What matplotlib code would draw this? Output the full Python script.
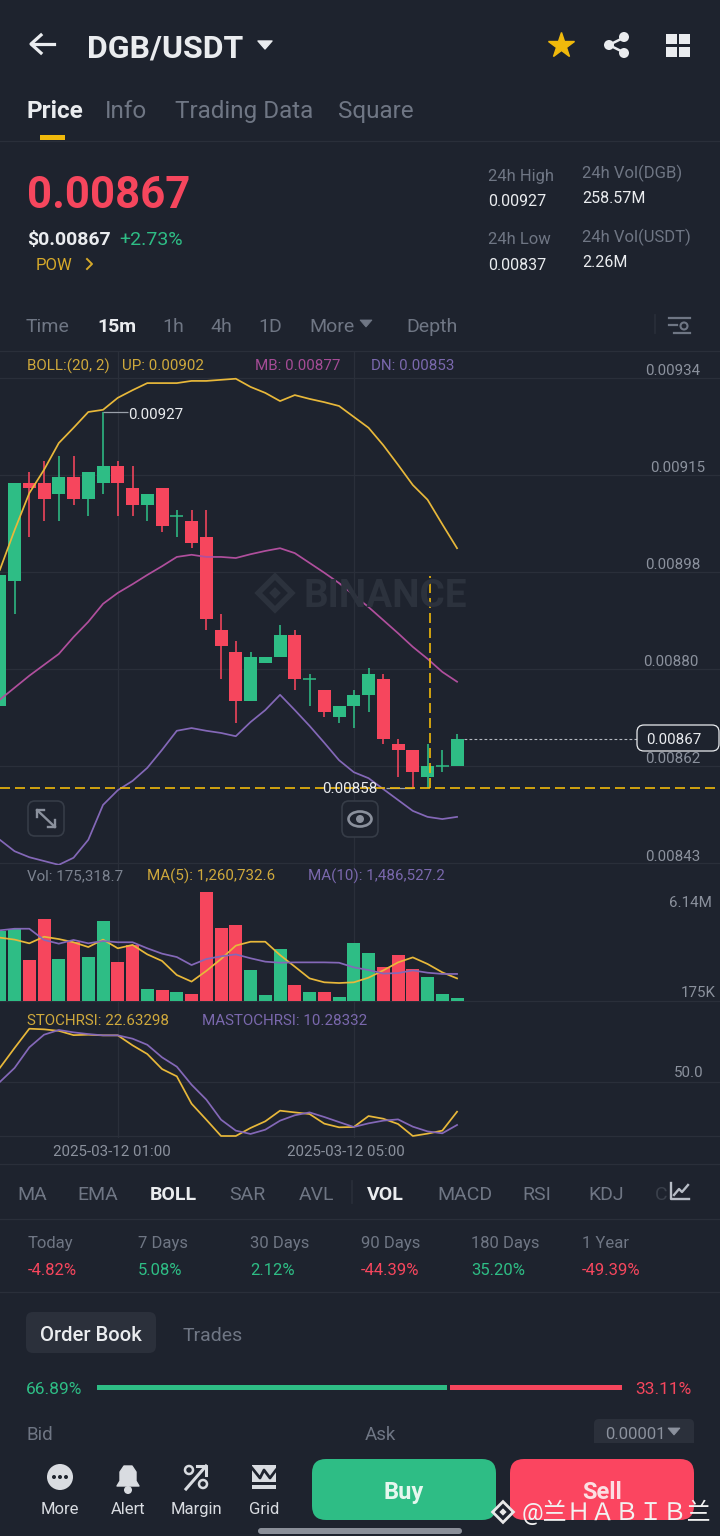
"""Recreate the DGB/USDT trading screen."""
import matplotlib
matplotlib.use('Agg')
import matplotlib.pyplot as plt
from matplotlib.patches import FancyBboxPatch, Circle, Rectangle, Polygon, Ellipse

plt.rcParams['font.family'] = ['Roboto', 'Noto Sans CJK SC', 'DejaVu Sans']

BG = '#1e232e'
GRID = '#2a2f3a'
GREEN = '#2ebd85'
RED = '#f6465d'
GOLD = '#e8b83a'
MAGENTA = '#b04f9d'
PURPLE = '#8468b8'
GRAY = '#6f7684'
WHITE = '#eaecef'

# candles
opens = [0.00873, 0.00896, 0.00914, 0.00914, 0.00912, 0.00915, 0.00911, 0.00914, 0.00917, 0.00913, 0.00910,
         0.00913, 0.00908, 0.00907, 0.00904, 0.00887, 0.00883, 0.00874, 0.00881, 0.00882, 0.00886, 0.00878,
         0.00876, 0.00871, 0.00873, 0.00875, 0.00878, 0.00866, 0.00865, 0.00860, 0.00862, 0.00862]
closes = [0.00897, 0.00914, 0.00913, 0.00911, 0.00915, 0.00911, 0.00916, 0.00917, 0.00914, 0.00910, 0.00912,
          0.00906, 0.00908, 0.00903, 0.00889, 0.00884, 0.00874, 0.00882, 0.00882, 0.00886, 0.00878, 0.00878,
          0.00872, 0.00873, 0.00875, 0.00879, 0.00867, 0.00865, 0.00861, 0.00862, 0.00862, 0.00867]
highs = [0.00897, 0.00914, 0.00916, 0.00918, 0.00919, 0.00919, 0.00916, 0.00927, 0.00918, 0.00917, 0.00912,
         0.00913, 0.00909, 0.00909, 0.00909, 0.00890, 0.00885, 0.00883, 0.00882, 0.00888, 0.00887, 0.00879,
         0.00876, 0.00873, 0.00876, 0.00880, 0.00879, 0.00867, 0.00865, 0.00866, 0.00865, 0.00868]
lows = [0.00873, 0.00890, 0.00904, 0.00907, 0.00907, 0.00910, 0.00908, 0.00912, 0.00908, 0.00908, 0.00907,
        0.00905, 0.00904, 0.00902, 0.00887, 0.00878, 0.00870, 0.00874, 0.00881, 0.00882, 0.00876, 0.00873,
        0.00871, 0.00870, 0.00869, 0.00872, 0.00866, 0.00860, 0.00858, 0.00858, 0.00861, 0.00862]

# bollinger bands
boll_up = [0.008980, 0.009053, 0.009121, 0.009164, 0.009213, 0.009241, 0.009270, 0.009274, 0.009296, 0.009310,
           0.009323, 0.009323, 0.009323, 0.009327, 0.009327, 0.009329, 0.009331, 0.009316, 0.009305, 0.009290,
           0.009301, 0.009294, 0.009288, 0.009281, 0.009261, 0.009241, 0.009209, 0.009173, 0.009136, 0.009109,
           0.009064, 0.009020]
boll_mb = [0.008742, 0.008764, 0.008786, 0.008806, 0.008826, 0.008857, 0.008885, 0.008918, 0.008938, 0.008954,
           0.008971, 0.008987, 0.009004, 0.009008, 0.009004, 0.009004, 0.009002, 0.009009, 0.009015, 0.009020,
           0.009011, 0.008993, 0.008975, 0.008956, 0.008934, 0.008912, 0.008888, 0.008864, 0.008839, 0.008817,
           0.008793, 0.008775]
boll_dn = [0.008485, 0.008464, 0.008453, 0.008446, 0.008439, 0.008452, 0.008485, 0.008549, 0.008576, 0.008593,
           0.008617, 0.008650, 0.008685, 0.008690, 0.008685, 0.008681, 0.008675, 0.008701, 0.008723, 0.008751,
           0.008723, 0.008694, 0.008663, 0.008631, 0.008609, 0.008598, 0.008578, 0.008558, 0.008538, 0.008527,
           0.008523, 0.008527]

# volume, in millions
volumes = [3.93, 4.04, 2.30, 4.61, 2.34, 3.33, 2.49, 4.49, 2.21, 3.15, 0.67, 0.62, 0.51, 0.41, 6.14, 4.08,
           4.27, 1.72, 0.32, 2.94, 0.90, 0.49, 0.49, 0.22, 3.28, 2.70, 1.91, 2.57, 1.80, 1.37, 0.39, 0.175]
vol_ma5 = [3.56, 3.45, 3.24, 3.61, 3.48, 3.30, 3.03, 3.45, 2.96, 3.15, 2.62, 2.25, 1.46, 1.09, 1.69, 2.36,
           3.11, 3.33, 3.33, 2.58, 1.93, 1.27, 1.05, 1.01, 1.05, 1.31, 1.72, 2.17, 2.45, 2.08, 1.61, 1.27]
vol_ma10 = [3.97, 4.06, 4.06, 3.43, 3.22, 3.43, 3.24, 3.37, 3.30, 3.30, 2.96, 2.66, 2.47, 2.02, 2.36, 2.51,
            2.62, 2.40, 2.21, 2.15, 2.17, 2.17, 2.17, 2.15, 1.89, 1.74, 1.54, 1.57, 1.72, 1.59, 1.52, 1.52]

# stoch rsi
stoch = [63.4, 82.0, 100.0, 99.4, 98.0, 94.0, 94.4, 93.8, 93.8, 84.5, 76.4, 62.4, 55.6, 30.1, 15.2, 0.0,
         0.0, 7.5, 13.7, 23.6, 22.0, 20.5, 11.5, 8.1, 8.4, 18.6, 16.1, 11.2, 0.0, 2.2, 5.0, 22.63]
ma_stoch = [50.3, 63.4, 82.6, 94.4, 98.8, 96.6, 95.0, 93.8, 93.8, 90.7, 85.0, 73.3, 64.6, 47.8, 33.9, 15.2,
            5.0, 1.9, 5.9, 14.3, 19.3, 22.0, 17.7, 13.0, 8.4, 11.8, 14.3, 15.5, 8.7, 4.3, 2.5, 10.28]

price_ticks = [0.009332, 0.009154, 0.008976, 0.008798, 0.00862, 0.008442]
price_labels = ['0.00934', '0.00915', '0.00898', '0.00880', '0.00862', '0.00843']
date_idx = [8, 24]
date_labels = ['2025-03-12 01:00', '2025-03-12 05:00']
period_names = ['Today', '7 Days', '30 Days', '90 Days', '180 Days', '1 Year']
period_values = ['-4.82%', '5.08%', '2.12%', '-44.39%', '35.20%', '-49.39%']

W, H = 720, 1536
STEP = 14.75
fig = plt.figure(figsize=(W / 100, H / 100), dpi=100, facecolor=BG)


def panel(top, bottom):
    ax = fig.add_axes([0, 1 - bottom / H, 1, (bottom - top) / H])
    ax.patch.set_alpha(0)
    for s in ax.spines.values():
        s.set_visible(False)
    ax.set_xlim(0.2 / STEP, (W + 0.2) / STEP)
    ax.set_xticks(date_idx)
    ax.tick_params(length=0, labelbottom=False, labelleft=False)
    ax.grid(True, color=GRID, lw=0.9)
    ax.set_axisbelow(True)
    return ax


def price_at(y):
    return 0.00858 + (788 - y) * 1.835e-6


idx = list(range(len(opens)))
cols = [GREEN if c >= o else RED for o, c in zip(opens, closes)]

# price panel
ax = panel(351, 865)
ax.set_ylim(price_at(865), price_at(351))
ax.set_yticks(price_ticks)
ax.vlines(idx, lows, highs, colors=cols, lw=1.15, zorder=2)
ax.bar(idx, [abs(c - o) for o, c in zip(opens, closes)], bottom=[min(o, c) for o, c in zip(opens, closes)],
       width=0.88, color=cols, zorder=3)
for i, (o, c) in enumerate(zip(opens, closes)):
    if o == c:
        ax.hlines(o, i - 0.44, i + 0.44, color=cols[i], lw=1.1, zorder=3)
ax.plot(idx, boll_up, color=GOLD, lw=1.25, zorder=4)
ax.plot(idx, boll_mb, color=MAGENTA, lw=1.25, zorder=4)
ax.plot(idx, boll_dn, color=PURPLE, lw=1.25, zorder=4)
ax.axhline(0.00858, color='#f0b90b', lw=1.2, dashes=(6, 3), zorder=5)
ax.vlines(29.15, 0.00858, 0.008969, color='#f0b90b', lw=1.2, linestyles=(0, (6, 3)), zorder=5)
ax.hlines(0.00927, 7, 8.7, color='#9aa0aa', lw=0.9, zorder=2)
ax.hlines(0.00858, 26.2, 28, color='#9aa0aa', lw=0.9, zorder=4)
ax.hlines(closes[-1], 31.5, 43.2, color='#b5b9c0', lw=0.8, linestyles=(0, (2.5, 2)), zorder=2)

# volume panel
ax2 = panel(865, 1004)
ax2.set_ylim(-3 / 17.8, 136 / 17.8)
ax2.set_yticks([0])
ax2.bar(idx, volumes, width=0.88, color=cols, zorder=3)
ax2.plot(idx, vol_ma5, color=GOLD, lw=1.25, zorder=4)
ax2.plot(idx, vol_ma10, color=PURPLE, lw=1.25, zorder=4)

# stoch panel
ax3 = panel(1004, 1138)
ax3.set_ylim(-2 / 1.073, 132 / 1.073)
ax3.set_yticks([0, 50])
ax3.plot(idx, stoch, color=GOLD, lw=1.25, zorder=4)
ax3.plot(idx, ma_stoch, color=PURPLE, lw=1.25, zorder=4)

# everything else sits on a pixel overlay
ui = fig.add_axes([0, 0, 1, 1], zorder=10)
ui.set_xlim(0, W)
ui.set_ylim(H, 0)
ui.axis('off')
ui.patch.set_alpha(0)


def t(x, y, s, size=11, color=GRAY, weight='normal', ha='left', **kw):
    # y is the middle of the capitals, text is placed on its baseline
    return ui.text(x, y + 0.49 * size, s, fontsize=size, color=color, fontweight=weight, ha=ha, va='baseline', **kw)


def rbox(x0, y0, x1, y1, r, fc='none', ec='none', lw=1.0, z=1):
    ui.add_patch(FancyBboxPatch((x0 + r, y0 + r), x1 - x0 - 2 * r, y1 - y0 - 2 * r,
                                boxstyle='round,pad=%f,rounding_size=%f' % (r, r), fc=fc, ec=ec, lw=lw, zorder=z))


def hline(y, x0=0, x1=W, color=GRID, lw=0.9):
    ui.plot([x0, x1], [y, y], color=color, lw=lw, zorder=1)


def logo(cx, cy, r, color, lw, z=1):
    ui.add_patch(Polygon([(cx - r * 0.8, cy), (cx, cy - r * 0.8), (cx + r * 0.8, cy), (cx, cy + r * 0.8)],
                         fc='none', ec=color, lw=lw, zorder=z))
    d = r * 0.28
    ui.add_patch(Polygon([(cx - d, cy), (cx, cy - d), (cx + d, cy), (cx, cy + d)], fc=color, ec='none', zorder=z))


# watermark
logo(275, 593, 21, '#2c323d', 4, z=0)
t(303, 593, 'BINANCE', 27.8, '#2c323d', 'bold')

# header
ui.plot([32, 54], [44, 44], color=WHITE, lw=2.3)
ui.plot([41, 31, 41], [35, 44, 53], color=WHITE, lw=2.3)
t(87, 46, 'DGB/USDT', 23, WHITE, 'bold')
ui.add_patch(Polygon([(258, 41), (272, 41), (265, 49)], fc=WHITE, ec=WHITE, lw=1, joinstyle='round'))
ui.plot(561, 45, marker='*', ms=19, color='#f0b90b', mec='#f0b90b')
for a, b in [((609, 45), (625, 37)), ((609, 45), (625, 53))]:
    ui.plot(*zip(a, b), color=WHITE, lw=1.8)
for c in [(609, 45), (624, 37), (624, 53)]:
    ui.add_patch(Circle(c, 5, fc=WHITE, ec='none'))
for x0, y0 in [(666, 34), (679, 34), (666, 47), (679, 47)]:
    ui.add_patch(Rectangle((x0, y0), 10.5, 10, fc=WHITE, ec='none'))

# tabs
t(27, 109, 'Price', 17.5, WHITE, 'bold')
t(105, 109, 'Info', 17.5)
t(175, 109, 'Trading Data', 17.5)
t(338, 109, 'Square', 17.5)
ui.add_patch(Rectangle((40, 135), 25, 5, fc='#f0b90b', ec='none'))
hline(140.5)

# ticker
t(27, 193, '0.00867', 31.5, RED, 'bold')
t(27, 238, '$0.00867', 14, WHITE, 'bold')
t(119, 238, '+2.73%', 14, GREEN, 'normal')
t(36, 264, 'POW', 12, '#d6a92a')
ui.plot([87, 92, 87], [259, 264, 269], color='#d6a92a', lw=1.4)
t(488, 175, '24h High', 12)
t(488, 200, '0.00927', 11.5, WHITE)
t(582, 172, '24h Vol(DGB)', 12)
t(582, 197, '258.57M', 11.5, WHITE)
t(488, 238, '24h Low', 12)
t(488, 264, '0.00837', 11.5, WHITE)
t(582, 236, '24h Vol(USDT)', 12)
t(582, 261, '2.26M', 11.5, WHITE)

# time frames
t(26, 325, 'Time', 14)
t(97, 325, '15m', 14, WHITE, 'bold')
t(162, 325, '1h', 14)
t(210, 325, '4h', 14)
t(258, 325, '1D', 14)
t(309, 325, 'More', 14)
ui.add_patch(Polygon([(360, 320), (372, 320), (366, 327)], fc=GRAY, ec=GRAY, lw=0.6))
t(406, 325, 'Depth', 14)
ui.plot([655, 655], [315, 333], color=GRID, lw=1.2)
ui.plot([669, 690], [318, 318], color=GRAY, lw=1.6)
ui.plot([669, 677], [325, 325], color=GRAY, lw=1.6)
ui.add_patch(Circle((684, 326), 3.5, fc='none', ec=GRAY, lw=1.5))
ui.plot([674, 690], [333, 333], color=GRAY, lw=1.6)
hline(350.5)

# chart legends
t(27, 365, 'BOLL:(20, 2)', 10.9, '#cfa93c')
t(122, 365, 'UP: 0.00902', 10.9, '#cfa93c')
t(255, 365, 'MB: 0.00877', 10.9, '#a54c96')
t(371, 365, 'DN: 0.00853', 10.9, '#7a68ad')
t(27, 875, 'Vol: 175,318.7', 10.9, '#7c8390')
t(147, 875, 'MA(5): 1,260,732.6', 10.9, '#cfa93c')
t(308, 875, 'MA(10): 1,486,527.2', 10.9, '#7a68ad')
t(27, 1020, 'STOCHRSI: 22.63298', 10.9, '#cfa93c')
t(202, 1020, 'MASTOCHRSI: 10.28332', 10.9, '#7a68ad')

# axis labels
for y, lab, xr in zip([370, 467, 564, 661, 758, 856], price_labels, [700, 705, 700, 699, 700, 700]):
    t(xr, y, lab, 10.9, '#8b919d', ha='right')
t(712, 902, '6.14M', 10.9, '#8b919d', ha='right')
t(716, 992, '175K', 10.9, '#8b919d', ha='right')
t(704, 1072, '50.0', 10.9, '#8b919d', ha='right')
for x, lab in zip([112, 346], date_labels):
    t(x, 1151, lab, 10.9, '#8b919d', ha='center')

# chart annotations
t(128, 414, '0.00927', 10.9, WHITE)
t(322, 788, '0.00858', 10.9, WHITE)
rbox(637, 725, 719, 751, 7, fc=BG, ec=WHITE, lw=0.9, z=3)
t(646, 739, '0.00867', 10.9, WHITE, zorder=4)

# expand and eye buttons
rbox(28, 801, 64, 836, 7, fc=BG, ec='#363c47', lw=1.2)
ui.plot([37, 55], [810, 827], color='#8b919d', lw=1.7)
ui.plot([37, 37, 44], [817, 810, 810], color='#8b919d', lw=1.7)
ui.plot([48, 55, 55], [827, 827, 820], color='#8b919d', lw=1.7)
rbox(342, 801, 378, 837, 7, fc=BG, ec='#363c47', lw=1.2)
ui.add_patch(Ellipse((360, 819), 23, 15, fc='none', ec='#8b919d', lw=1.9))
ui.add_patch(Circle((360, 819), 4, fc='#8b919d', ec='none'))

# indicator row
hline(1164)
for x, lab in zip([17, 77, 229, 299, 437, 522, 588], ['MA', 'EMA', 'SAR', 'AVL', 'MACD', 'RSI', 'KDJ']):
    t(x, 1193, lab, 14)
t(150, 1193, 'BOLL', 14, WHITE, 'bold')
t(367, 1193, 'VOL', 14, WHITE, 'bold')
t(655, 1193, 'C', 14, '#3a404b')
ui.plot([352, 352], [1181, 1203], color=GRID, lw=1.2)
ui.plot([671, 671, 689], [1183, 1199, 1199], color='#b7bdc6', lw=1.7)
ui.plot([674, 679, 682, 688], [1195, 1189, 1192, 1185], color='#b7bdc6', lw=1.7)
hline(1219)

# period returns
for x, name, val in zip([28, 138, 250, 361, 471, 582], period_names, period_values):
    t(x, 1242, name, 12)
    t(x, 1269, val, 12, RED if val.startswith('-') else GREEN)
hline(1292)

# order book
rbox(26, 1312, 156, 1353, 7, fc='#2b303b')
t(40, 1334, 'Order Book', 14.6, WHITE, 'medium')
t(183, 1334, 'Trades', 14)
t(26, 1388, '66.89%', 12.5, GREEN)
t(635, 1388, '33.11%', 12.5, RED)
ui.add_patch(Rectangle((97, 1385), 350, 5, fc=GREEN, ec='none'))
ui.add_patch(Rectangle((450, 1385), 172, 5, fc=RED, ec='none'))
t(26, 1433, 'Bid', 13.5)
t(365, 1433, 'Ask', 13.5)
rbox(594, 1419, 694, 1450, 5, fc='#2b303b')
t(605, 1433, '0.00001', 12, '#8b919d')
ui.add_patch(Polygon([(668, 1428), (680, 1428), (674, 1435)], fc='#8b919d', ec='#8b919d', lw=0.6))

# bottom bar
ui.add_patch(Rectangle((0, 1443), W, 93, fc=BG, ec='none', zorder=2))
ui.add_patch(Circle((60, 1477), 13, fc='#d9dce1', ec='none', zorder=3))
for dx in [-6, 0, 6]:
    ui.add_patch(Circle((60 + dx, 1477), 2, fc=BG, ec='none', zorder=4))
ui.add_patch(Polygon([(117, 1486), (120, 1481), (120, 1472), (124, 1466), (132, 1466), (136, 1472), (136, 1481),
                      (139, 1486)], fc='#d9dce1', ec='#d9dce1', lw=1, joinstyle='round', zorder=3))
ui.add_patch(Circle((128, 1490), 4, fc='#d9dce1', ec='none', zorder=3))
ui.plot([186, 206], [1489, 1466], color='#d9dce1', lw=2.2, zorder=3)
ui.plot([197, 206, 206], [1466, 1466, 1475], color='#d9dce1', lw=2.2, zorder=3)
ui.add_patch(Circle((189, 1470), 4, fc='none', ec='#d9dce1', lw=1.8, zorder=3))
ui.add_patch(Circle((203, 1484), 4, fc='none', ec='#d9dce1', lw=1.8, zorder=3))
ui.add_patch(Rectangle((252, 1465), 24, 17, fc='#d9dce1', ec='none', zorder=3))
ui.plot([252, 260, 264, 270, 276], [1468, 1478, 1470, 1478, 1470], color=BG, lw=2, zorder=4)
ui.add_patch(Rectangle((252, 1485), 24, 4, fc='#d9dce1', ec='none', zorder=3))
for x, lab in zip([60, 128, 196, 264], ['More', 'Alert', 'Margin', 'Grid']):
    t(x, 1508, lab, 12, '#d9dce1', ha='center', zorder=3)
rbox(312, 1459, 496, 1520, 14, fc=GREEN, z=3)
rbox(510, 1459, 694, 1520, 14, fc='#fb4560', z=3)
t(404, 1491, 'Buy', 17, '#e6f7ef', 'bold', ha='center', zorder=4)
t(602, 1491, 'Sell', 17, '#fbdfe3', 'bold', ha='center', zorder=4)
logo(503, 1512, 13, '#e8e8e8', 2, z=5)
t(522, 1512, '@兰ＨＡＢＩＢ兰', 17.3, '#f2f2f2', zorder=6)
rbox(258, 1528, 462, 1534, 3, fc='#8a8f99', z=3)

fig.savefig('out.png', dpi=100, facecolor=BG)
